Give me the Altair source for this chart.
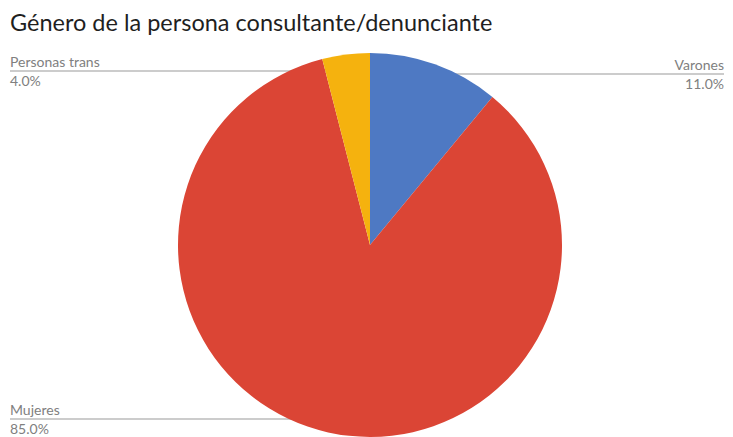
import altair as alt
import pandas as pd

# ---- data ----
categories = ["Varones", "Mujeres", "Personas trans"]
values = [11.0, 85.0, 4.0]
colors = ["#4E79C3", "#DB4535", "#F5B20E"]
title_text = "Género de la persona consultante/denunciante"

# ---- layout (page pixel coordinates) ----
W, H = 717, 437
cx, cy, R = 370, 245, 192
label_side = ["right", "left", "left"]
label_line_y = [74, 419, 71]
left_x, right_x = 10, 724

df = pd.DataFrame({"cat": categories, "val": values, "idx": list(range(len(categories)))})
df["pct"] = [f"{v:.1f}%" for v in values]
df["side"] = label_side
df["ly"] = label_line_y
df["x_out"] = [right_x if s == "right" else left_x for s in label_side]
df["x_in"] = cx
df["y_name"] = df["ly"] - 4
df["y_pct"] = df["ly"] + 15

xs = alt.Scale(domain=[8, 8 + W], range=[0, W])
ys = alt.Scale(domain=[8, 8 + H], range=[0, H])

base = alt.Chart(df)

lines = base.mark_rule(color="#999999", strokeWidth=1).encode(
    x=alt.X("x_out:Q", scale=xs, axis=None),
    x2="x_in:Q",
    y=alt.Y("ly:Q", scale=ys, axis=None),
)

pie = base.mark_arc(outerRadius=R).encode(
    theta=alt.Theta("val:Q", stack=True),
    order=alt.Order("idx:Q"),
    color=alt.Color("cat:N", scale=alt.Scale(domain=categories, range=colors), legend=None),
    x=alt.value(cx - 8),
    y=alt.value(cy - 8),
)

def labels(side, align):
    d = base.transform_filter(alt.datum.side == side)
    common = dict(align=align, baseline="alphabetic", font="Lato", fontSize=14, color="#808080")
    n = d.mark_text(**common).encode(
        x=alt.X("x_out:Q", scale=xs, axis=None),
        y=alt.Y("y_name:Q", scale=ys, axis=None),
        text="cat:N",
    )
    p = d.mark_text(**common).encode(
        x=alt.X("x_out:Q", scale=xs, axis=None),
        y=alt.Y("y_pct:Q", scale=ys, axis=None),
        text="pct:N",
    )
    return n + p

title_df = pd.DataFrame({"t": [title_text], "x": [10], "y": [31]})
title = alt.Chart(title_df).mark_text(
    align="left", baseline="alphabetic", font="Lato", fontSize=23.5, color="#1f1f1f"
).encode(
    x=alt.X("x:Q", scale=xs, axis=None),
    y=alt.Y("y:Q", scale=ys, axis=None),
    text="t:N",
)

chart = alt.layer(lines, pie, labels("left", "left"), labels("right", "right"), title).properties(
    width=W, height=H, autosize=alt.AutoSizeParams(type="none"), padding=0
).configure_view(stroke=None)

chart.save("out.html", embed_options={"renderer": "svg", "actions": False})
